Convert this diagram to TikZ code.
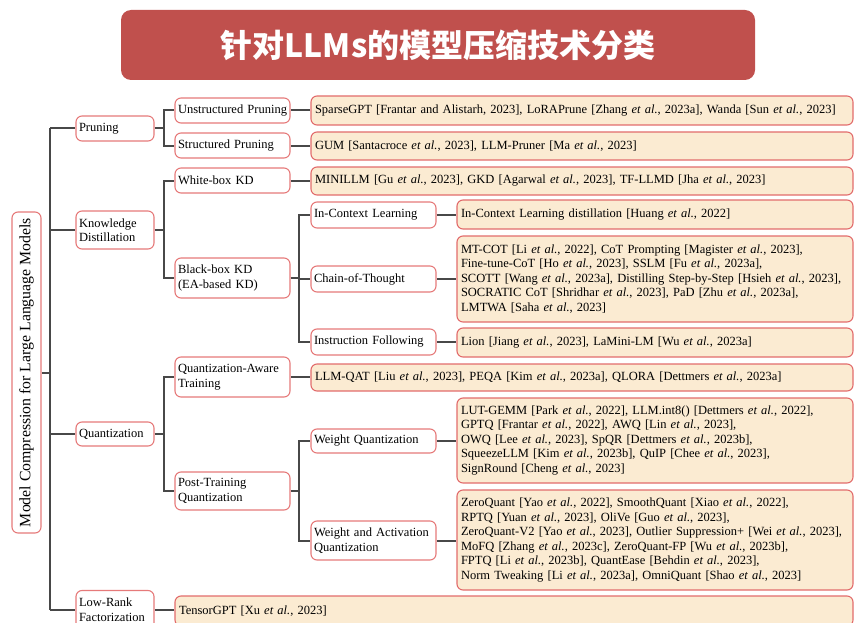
\documentclass[tikz,border=0pt]{standalone}
\usepackage{fontspec}
\setmainfont{Liberation Serif}
\newfontfamily\cjk{Noto Sans CJK SC}
\usetikzlibrary{backgrounds}
\definecolor{titlered}{RGB}{192,80,77}
\definecolor{boxred}{RGB}{230,122,122}
\definecolor{leafred}{RGB}{226,108,108}
\definecolor{leafbg}{RGB}{251,235,210}
\definecolor{linegray}{RGB}{72,72,72}
\newcommand{\myetal}{\textit{et al.}}
\tikzset{
  base/.style={rounded corners=6pt, line width=1.1pt, inner ysep=0pt, font=\fontsize{12.5}{14.5}\selectfont, align=left},
  catbox/.style={base, draw=boxred, fill=white, inner xsep=3pt},
  leafbox/.style={base, draw=leafred, fill=leafbg, inner xsep=4pt},
  conn/.style={draw=linegray, line width=2pt},
}
\begin{document}
\begin{tikzpicture}[x=1pt,y=-1pt]
\useasboundingbox (0,0) rectangle (856,623);
% title
\node[fill=titlered, rounded corners=10pt, minimum width=634pt, minimum height=70pt, text=white, font=\cjk\bfseries\fontsize{32}{36}\selectfont] (title) at (438,45) {针对LLMs的模型压缩技术分类};
% root
\node[catbox, rotate=90, minimum width=321pt, minimum height=29pt, font=\fontsize{15.8}{18}\selectfont, align=center, inner xsep=0pt] (root) at (26.5,372.5) {Model Compression for Large Language Models};
\coordinate (trunk) at (50,0);
% level 1
\node[catbox, minimum width=78pt, minimum height=25pt, text width=72pt] (prun) at (115,128.5) {Pruning};
\node[catbox, minimum width=78pt, minimum height=38pt, text width=72pt] (kd) at (115,230) {Knowledge\\Distillation};
\node[catbox, minimum width=78pt, minimum height=24pt, text width=72pt] (quant) at (115,434) {Quantization};
\node[catbox, minimum width=78pt, minimum height=38pt, text width=72pt] (lowr) at (115,609.5) {Low-Rank\\Factorization};
% level 2
\node[catbox, minimum width=115pt, minimum height=25pt, text width=109pt] (unstr) at (232.5,110.5) {\mbox{Unstructured Pruning}};
\node[catbox, minimum width=115pt, minimum height=25pt, text width=109pt] (str) at (232.5,145.5) {Structured Pruning};
\node[catbox, minimum width=115pt, minimum height=25pt, text width=109pt] (white) at (232.5,180.5) {White-box KD};
\node[catbox, minimum width=115pt, minimum height=40pt, text width=109pt] (black) at (232.5,278) {Black-box KD\\(EA-based KD)};
\node[catbox, minimum width=115pt, minimum height=40pt, text width=109pt] (qat) at (232.5,377) {Quantization-Aware\\Training};
\node[catbox, minimum width=115pt, minimum height=38pt, text width=109pt] (ptq) at (232.5,491) {Post-Training\\Quantization};
% level 3
\node[catbox, minimum width=125pt, minimum height=26pt, text width=119pt] (icl) at (373.5,215) {In-Context Learning};
\node[catbox, minimum width=125pt, minimum height=26pt, text width=119pt] (cot) at (373.5,279) {Chain-of-Thought};
\node[catbox, minimum width=125pt, minimum height=26pt, text width=119pt] (inf) at (373.5,342) {Instruction Following};
\node[catbox, minimum width=125pt, minimum height=24pt, text width=119pt] (wq) at (373.5,441) {Weight Quantization};
\node[catbox, minimum width=125pt, minimum height=39pt, text width=119pt] (waq) at (373.5,540.5) {Weight and Activation\\Quantization};
% leaves under level 2
\node[leafbox, minimum width=542pt, minimum height=29pt, text width=534pt] (lunstr) at (582,110.5) {SparseGPT [Frantar and Alistarh, 2023], LoRAPrune [Zhang \myetal, 2023a], Wanda [Sun \myetal, 2023]};
\node[leafbox, minimum width=542pt, minimum height=28pt, text width=534pt] (lstr) at (582,146) {GUM [Santacroce \myetal, 2023], LLM-Pruner [Ma \myetal, 2023]};
\node[leafbox, minimum width=542pt, minimum height=28pt, text width=534pt] (lwhite) at (582,181) {MINILLM [Gu \myetal, 2023], GKD [Agarwal \myetal, 2023], TF-LLMD [Jha \myetal, 2023]};
\node[leafbox, minimum width=542pt, minimum height=27pt, text width=534pt] (lqat) at (582,377.5) {LLM-QAT [Liu \myetal, 2023], PEQA [Kim \myetal, 2023a], QLORA [Dettmers \myetal, 2023a]};
% leaves under level 3
\node[leafbox, minimum width=396pt, minimum height=29pt, text width=388pt] (licl) at (655,214.5) {In-Context Learning distillation [Huang \myetal, 2022]};
\node[leafbox, minimum width=396pt, minimum height=86pt, text width=388pt] (lcot) at (655,279) {MT-COT [Li \myetal, 2022], CoT Prompting [Magister \myetal, 2023],\\Fine-tune-CoT [Ho \myetal, 2023], SSLM [Fu \myetal, 2023a],\\SCOTT [Wang \myetal, 2023a], Distilling Step-by-Step [Hsieh \myetal, 2023],\\SOCRATIC CoT [Shridhar \myetal, 2023], PaD [Zhu \myetal, 2023a],\\LMTWA [Saha \myetal, 2023]};
\node[leafbox, minimum width=396pt, minimum height=29pt, text width=388pt] (linf) at (655,342.5) {Lion [Jiang \myetal, 2023], LaMini-LM [Wu \myetal, 2023a]};
\node[leafbox, minimum width=396pt, minimum height=85pt, text width=388pt] (lwq) at (655,440.5) {LUT-GEMM [Park \myetal, 2022], LLM.int8() [Dettmers \myetal, 2022],\\GPTQ [Frantar \myetal, 2022], AWQ [Lin \myetal, 2023],\\OWQ [Lee \myetal, 2023], SpQR [Dettmers \myetal, 2023b],\\SqueezeLLM [Kim \myetal, 2023b], QuIP [Chee \myetal, 2023],\\SignRound [Cheng \myetal, 2023]};
\node[leafbox, minimum width=396pt, minimum height=100pt, text width=388pt] (lwaq) at (655,540) {ZeroQuant [Yao \myetal, 2022], SmoothQuant [Xiao \myetal, 2022],\\RPTQ [Yuan \myetal, 2023], OliVe [Guo \myetal, 2023],\\ZeroQuant-V2 [Yao \myetal, 2023], Outlier Suppression+ [Wei \myetal, 2023],\\MoFQ [Zhang \myetal, 2023c], ZeroQuant-FP [Wu \myetal, 2023b],\\FPTQ [Li \myetal, 2023b], QuantEase [Behdin \myetal, 2023],\\Norm Tweaking [Li \myetal, 2023a], OmniQuant [Shao \myetal, 2023]};
\node[leafbox, minimum width=678pt, minimum height=30pt, text width=670pt] (ltensor) at (514,611) {TensorGPT [Xu \myetal, 2023]};
% connectors
\begin{pgfonlayer}{background}
\draw[conn] (root.south) -- (root.south -| trunk);
\draw[conn] (trunk |- prun.west) -- (trunk |- lowr.west);
\foreach \c in {prun,kd,quant,lowr} \draw[conn] (trunk |- \c.west) -- (\c.west);
\draw[conn] (prun.east) -- ++(9,0) |- (unstr.west);
\draw[conn] (prun.east) -- ++(9,0) |- (str.west);
\draw[conn] (kd.east) -- ++(9,0) |- (white.west);
\draw[conn] (kd.east) -- ++(9,0) |- (black.west);
\draw[conn] (quant.east) -- ++(9,0) |- (qat.west);
\draw[conn] (quant.east) -- ++(9,0) |- (ptq.west);
\draw[conn] (black.east) -- ++(8,0) |- (icl.west);
\draw[conn] (black.east) -- ++(8,0) |- (cot.west);
\draw[conn] (black.east) -- ++(8,0) |- (inf.west);
\draw[conn] (ptq.east) -- ++(8,0) |- (wq.west);
\draw[conn] (ptq.east) -- ++(8,0) |- (waq.west);
\draw[conn] (unstr.east) -- (unstr.east -| lunstr.west);
\draw[conn] (str.east) -- (str.east -| lstr.west);
\draw[conn] (white.east) -- (white.east -| lwhite.west);
\draw[conn] (qat.east) -- (qat.east -| lqat.west);
\draw[conn] (icl.east) -- (icl.east -| licl.west);
\draw[conn] (cot.east) -- (cot.east -| lcot.west);
\draw[conn] (inf.east) -- (inf.east -| linf.west);
\draw[conn] (wq.east) -- (wq.east -| lwq.west);
\draw[conn] (waq.east) -- (waq.east -| lwaq.west);
\draw[conn] (lowr.east) -- (lowr.east -| ltensor.west);
\end{pgfonlayer}
\end{tikzpicture}
\end{document}
